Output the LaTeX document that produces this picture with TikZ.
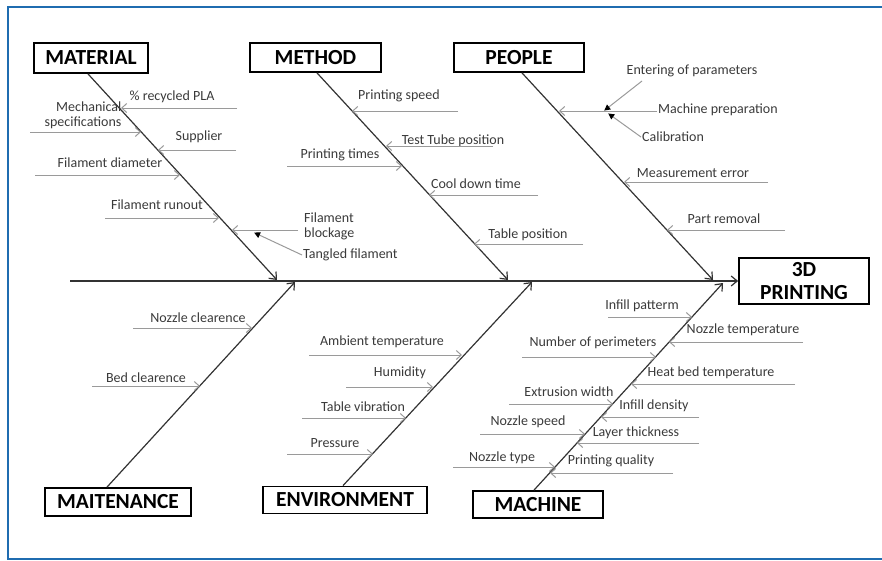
\documentclass[tikz,border=0pt]{standalone}
\usepackage{fontspec}
\setmainfont{Carlito}
\usetikzlibrary{arrows.meta}

\definecolor{framecol}{HTML}{1F6CB0}
\definecolor{txtgray}{HTML}{3A3A3A}
\definecolor{linegray}{HTML}{9A9A9A}

\tikzset{
  catbox/.style={draw=black, line width=1.8pt, fill=white, font=\fontsize{21.5}{23}\selectfont\bfseries, inner sep=0pt},
  lbl/.style={text=txtgray, font=\fontsize{14}{15}\selectfont, inner sep=1pt},
  cause/.style={draw=linegray, line width=1pt, -{Straight Barb[length=5pt,width=9pt]}},
  hint/.style={draw=linegray, line width=1pt, -{Triangle[length=6pt,width=6pt,black]}, shorten >=-1pt},
  bone/.style={draw=black!80, line width=1.2pt, -{Straight Barb[length=6pt,width=10pt]}},
}

% one cause line: name, from x, to x, y
\newcommand{\causeline}[4]{%
  \coordinate (#1a) at (#2,#4);
  \coordinate (#1b) at (#3,#4);
  \draw[cause] (#1a) -- (#1b);}

\begin{document}
\begin{tikzpicture}[x=1pt, y=-1pt]
  \useasboundingbox (0,0) rectangle (882,560);

  % frame
  \draw[framecol, line width=2.5pt] (882,7) -- (8,7) -- (8,559) -- (882,559);

  % boxes
  \node[catbox, minimum width=114, minimum height=30] (mat) at (91,58) {MATERIAL};
  \node[catbox, minimum width=131, minimum height=29] (met) at (315.5,57.5) {METHOD};
  \node[catbox, minimum width=130, minimum height=29] (peo) at (519,57.5) {PEOPLE};
  \node[catbox, minimum width=146, minimum height=28] (mai) at (118,502) {MAITENANCE};
  \node[catbox, minimum width=164, minimum height=27] (env) at (345,500) {ENVIRONMENT};
  \node[catbox, minimum width=130, minimum height=27] (mac) at (538,504.5) {MACHINE};
  \node[catbox, minimum width=130, minimum height=46, align=center] (prn) at (804,281) {3D\\PRINTING};

  % spine
  \coordinate (tail) at (70,281);
  \draw[bone] (tail) -- (prn.west);

  % bones
  \coordinate (matS) at (277,280);
  \coordinate (metS) at (508,280);
  \coordinate (peoS) at (713,280);
  \coordinate (maiS) at (295,282);
  \coordinate (envS) at (532,282);
  \coordinate (macS) at (723,283);
  \draw[bone] ([xshift=-3]mat.south) -- (matS);
  \draw[bone] ([xshift=1.5]met.south) -- (metS);
  \draw[bone] ([xshift=3]peo.south) -- (peoS);
  \draw[bone] ([xshift=-11]mai.north) -- (maiS);
  \draw[bone] ([xshift=-2]env.north) -- (envS);
  \draw[bone] ([xshift=-4]mac.north) -- (macS);

  %=================================================
  % MATERIAL
  \node[lbl] (rcy) at (172,97) {\% recycled PLA};
  \causeline{rcy}{237}{121}{108}
  \node[lbl, align=right] (mech) at (83,115.5) {Mechanical\\specifications};
  \causeline{mech}{30}{141}{132}
  \node[lbl] (sup) at (199,137) {Supplier};
  \causeline{sup}{236}{158}{150}
  \node[lbl] (dia) at (110,163) {Filament diameter};
  \causeline{dia}{35}{180}{175}
  \node[lbl] (run) at (157,205) {Filament runout};
  \causeline{run}{105}{219}{218}
  \node[lbl, anchor=west, align=left] (blk) at (303,226) {Filament\\blockage};
  \causeline{blk}{298}{232}{230}
  \node[lbl, anchor=west] (tng) at (302,255) {Tangled filament};
  \coordinate (tngb) at (255,233);
  \draw[hint] (tng.west) -- (tngb);

  %=================================================
  % METHOD
  \node[lbl] (spd) at (399,96) {Printing speed};
  \causeline{spd}{458}{352}{111}
  \node[lbl] (tube) at (453,141) {Test Tube position};
  \causeline{tube}{493}{386}{146}
  \node[lbl] (tim) at (340,155) {Printing times};
  \causeline{tim}{287}{402}{166}
  \node[lbl] (cool) at (476,184) {Cool down time};
  \causeline{cool}{538}{429}{195}
  \node[lbl] (tab) at (528,235) {Table position};
  \causeline{tab}{583}{474}{244}

  %=================================================
  % PEOPLE
  \node[lbl, anchor=west] (prep) at (657,110) {Machine preparation};
  \coordinate (prepb) at (559,111);
  \draw[cause] (prep.west |- prepb) -- (prepb);
  \node[lbl] (ent) at (692,71) {Entering of parameters};
  \coordinate (enta) at (642,81);
  \coordinate (entb) at (605,110);
  \draw[hint] (enta) -- (entb);
  \node[lbl, anchor=west] (cal) at (641,137) {Calibration};
  \coordinate (calb) at (609,114);
  \draw[hint] (cal.west) -- (calb);
  \node[lbl] (meas) at (693,173) {Measurement error};
  \causeline{meas}{768}{624}{182}
  \node[lbl] (rem) at (724,219) {Part removal};
  \causeline{rem}{785}{667}{230}

  %=================================================
  % MAITENANCE
  \node[lbl] (nzc) at (198,318) {Nozzle clearence};
  \causeline{nzc}{133}{252}{328}
  \node[lbl] (bed) at (146,378) {Bed clearence};
  \causeline{bed}{92}{200}{386}

  %=================================================
  % ENVIRONMENT
  \node[lbl] (amb) at (382,342) {Ambient temperature};
  \causeline{amb}{309}{462}{355}
  \node[lbl] (hum) at (400,373) {Humidity};
  \causeline{hum}{346}{433}{387}
  \node[lbl] (vib) at (363,407) {Table vibration};
  \causeline{vib}{302}{406}{418}
  \node[lbl] (prs) at (335,443) {Pressure};
  \causeline{prs}{287}{373}{454}

  %=================================================
  % MACHINE
  \node[lbl] (ipat) at (642,306) {Infill patterm};
  \causeline{ipat}{608}{692}{317}
  \node[lbl] (ntmp) at (743,330) {Nozzle temperature};
  \causeline{ntmp}{803}{669}{342}
  \node[lbl] (per) at (593,343) {Number of perimeters};
  \causeline{per}{522}{656}{357}
  \node[lbl] (hbed) at (711,373) {Heat bed temperature};
  \causeline{hbed}{795}{631}{384}
  \node[lbl] (ext) at (569,392) {Extrusion width};
  \causeline{ext}{509}{613}{404}
  \node[lbl] (iden) at (654,406) {Infill density};
  \causeline{iden}{699}{601}{417}
  \node[lbl] (nspd) at (528,422) {Nozzle speed};
  \causeline{nspd}{480}{585}{434}
  \node[lbl] (lay) at (636,433) {Layer thickness};
  \causeline{lay}{699}{577}{443}
  \node[lbl] (ntyp) at (502,458) {Nozzle type};
  \causeline{ntyp}{453}{555}{467}
  \node[lbl] (qual) at (611,461) {Printing quality};
  \causeline{qual}{673}{550}{473}

\end{tikzpicture}
\end{document}
